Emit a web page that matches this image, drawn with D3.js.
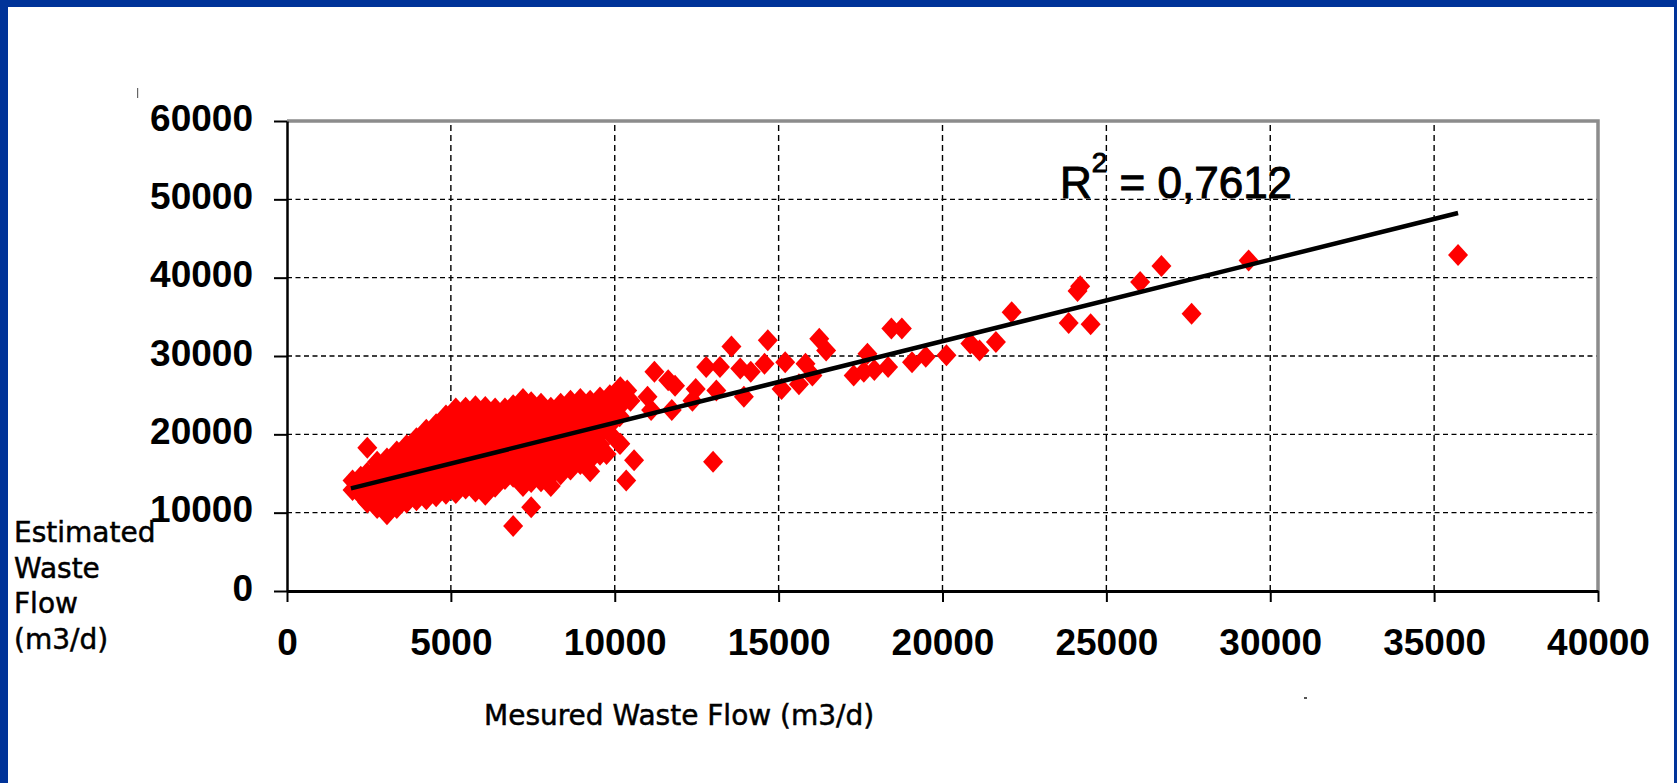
<!DOCTYPE html>
<html>
<head>
<meta charset="utf-8">
<script src="https://cdn.jsdelivr.net/npm/d3@7"></script>
<style>
  body { margin: 0; background: #fff; overflow: hidden; }
</style>
</head>
<body>
<div id="chart"></div>
<script>
// axis ticks
const xTicks = [0, 5000, 10000, 15000, 20000, 25000, 30000, 35000, 40000];
const yTicks = [0, 10000, 20000, 30000, 40000, 50000, 60000];

// dense cloud, read column by column: [measured, [estimated...]]
const denseColumns = [
  [2000, [12900, 14100]],
  [2250, [12300, 13500, 14600]],
  [2450, [11300, 12600, 13900, 15100, 18300]],
  [2750, [10600, 11900, 13200, 14500, 15700, 16500]],
  [3050, [9800, 11100, 12400, 13700, 15000, 16300, 16900]],
  [3350, [10600, 11900, 13200, 14500, 15800, 17100, 17800]],
  [3650, [11300, 12600, 13900, 15200, 16500, 17800, 18600]],
  [3950, [11600, 12900, 14200, 15500, 16800, 18100, 19500]],
  [4250, [11700, 13000, 14300, 15600, 16900, 18200, 19500, 20600]],
  [4550, [12100, 13400, 14700, 16000, 17300, 18600, 19900, 21300]],
  [4850, [12400, 13700, 15000, 16300, 17600, 18900, 20200, 21500, 22400]],
  [5150, [12500, 13800, 15100, 16400, 17700, 19000, 20300, 21600, 22900, 23300]],
  [5450, [13100, 14400, 15700, 17000, 18300, 19600, 20900, 22200, 23400]],
  [5750, [12700, 14000, 15300, 16600, 17900, 19200, 20500, 21800, 23100, 23600]],
  [6050, [12300, 13600, 14900, 16200, 17500, 18800, 20100, 21400, 22700, 23500]],
  [6350, [13300, 14600, 15900, 17200, 18500, 19800, 21100, 22400, 23300]],
  [6650, [14300, 15600, 16900, 18200, 19500, 20800, 22100, 23300]],
  [6900, [8300, 14600, 15900, 17200, 18500, 19800, 21100, 22400, 23700]],
  [7200, [13400, 14700, 16000, 17300, 18600, 19900, 21200, 22500, 23800, 24500]],
  [7450, [10700, 13900, 15200, 16500, 17800, 19100, 20400, 21700, 23000, 24100]],
  [7750, [14000, 15300, 16600, 17900, 19200, 20500, 21800, 23100, 23900]],
  [8050, [13400, 14700, 16000, 17300, 18600, 19900, 21200, 22500, 23400]],
  [8350, [14900, 16200, 17500, 18800, 20100, 21400, 22700, 23900]],
  [8650, [15500, 16800, 18100, 19400, 20700, 22000, 23300, 24300]],
  [8950, [16200, 17500, 18800, 20100, 21400, 22700, 24000, 24500]],
  [9250, [15300, 16800, 18200, 19500, 20800, 22100, 23400, 24300]],
  [9550, [17400, 18700, 20000, 21300, 22600, 23900, 24700]],
  [9850, [20100, 21200, 22500, 23800, 25000]],
  [10150, [18800, 22300, 23600, 24900, 25300]]
];

// scattered points away from the cloud: [measured, estimated]
const sparsePoints = [
  [9750, 17500], [10170, 18800], [10350, 14100], [10590, 16700], [10480, 24300],
  [10380, 25600], [10170, 26000], [11000, 24800], [11110, 23100], [11210, 28000],
  [11630, 26900], [11740, 23100], [11840, 26200], [12370, 24300], [12470, 25800],
  [12790, 28600], [13000, 16500], [13100, 25600], [13210, 28600], [13560, 31200],
  [13830, 28400], [13940, 24800], [14150, 28000], [14570, 29000], [14670, 32000],
  [15090, 25800], [15200, 29200], [15620, 26400], [15820, 29000], [16030, 27500],
  [16240, 32200], [16450, 30700], [17290, 27500], [17600, 28000], [17710, 30300],
  [17920, 28200], [18340, 28600], [18440, 33500], [18760, 33500], [19070, 29200],
  [19490, 29900], [20120, 30100], [20850, 31600], [21130, 30700], [21630, 31800],
  [22110, 35600], [23850, 34200], [24120, 38300], [24200, 38900], [24520, 34050],
  [26030, 39450], [26680, 41500], [27600, 35400], [29340, 42200], [35730, 42900]
];

// linear trend line end points and fit label
const trendLine = [[1950, 13100], [35730, 48260]];
const r2Value = "0,7612";

const xTitle = "Mesured Waste Flow (m3/d)";
const yTitleLines = ["Estimated", "Waste", "Flow", "(m3/d)"];

const points = denseColumns
  .flatMap(([mx, ests]) => ests.map(e => [mx, e]))
  .concat(sparsePoints);

const width = 1677;
const height = 783;

const svg = d3.select("#chart")
  .append("svg")
  .attr("width", width)
  .attr("height", height);

// slide frame
svg.append("rect")
  .attr("width", width).attr("height", height)
  .attr("fill", "#003399");
svg.append("rect")
  .attr("x", 8).attr("y", 7)
  .attr("width", width - 11).attr("height", height - 7)
  .attr("fill", "#ffffff");

// small scan specks seen on the slide
svg.append("rect").attr("x", 137).attr("y", 88).attr("width", 1.2).attr("height", 10).attr("fill", "#666");
svg.append("rect").attr("x", 1304).attr("y", 697).attr("width", 3).attr("height", 2).attr("fill", "#555");

const x = d3.scaleLinear().domain([0, 40000]).range([287, 1598]);
const y = d3.scaleLinear().domain([0, 60000]).range([591, 121]);

// dashed grid
const grid = svg.append("g")
  .attr("stroke", "#000")
  .attr("stroke-width", 1.4);

grid.selectAll("line.h")
  .data(yTicks.slice(1, -1))
  .join("line")
  .attr("class", "h")
  .attr("x1", x(0)).attr("x2", x(40000))
  .attr("y1", d => y(d)).attr("y2", d => y(d))
  .attr("stroke-dasharray", "5,3.5");

grid.selectAll("line.v")
  .data(xTicks.slice(1, -1))
  .join("line")
  .attr("class", "v")
  .attr("y1", y(0)).attr("y2", y(60000))
  .attr("x1", d => x(d)).attr("x2", d => x(d))
  .attr("stroke-dasharray", "6,4");

// plot area border (top and right)
svg.append("path")
  .attr("d", `M${x(0)},${y(60000)}H${x(40000)}V${y(0)}`)
  .attr("fill", "none")
  .attr("stroke", "#8c8c8c")
  .attr("stroke-width", 3.5);

// diamonds
svg.append("g")
  .selectAll("path")
  .data(points)
  .join("path")
  .attr("transform", d => `translate(${x(d[0])},${y(d[1])})`)
  .attr("d", "M0,-11L10,0L0,11L-10,0Z")
  .attr("fill", "#ff0000");

// trend line
svg.append("line")
  .attr("x1", x(trendLine[0][0])).attr("y1", y(trendLine[0][1]))
  .attr("x2", x(trendLine[1][0])).attr("y2", y(trendLine[1][1]))
  .attr("stroke", "#000")
  .attr("stroke-width", 4.5);

// axes
const tickFont = "'Liberation Sans', Arial, sans-serif";

const xAxis = d3.axisBottom(x)
  .tickValues(xTicks)
  .tickSize(11)
  .tickSizeOuter(0)
  .tickPadding(27)
  .tickFormat(d3.format("d"));

const gx = svg.append("g")
  .attr("transform", `translate(0,${y(0)})`)
  .call(xAxis);
gx.select(".domain").attr("stroke-width", 3);
gx.selectAll(".tick line").attr("stroke-width", 2);
gx.selectAll("text")
  .attr("font-family", tickFont)
  .attr("font-weight", "bold")
  .attr("font-size", 37)
  .attr("fill", "#000");

const yAxis = d3.axisLeft(y)
  .tickValues(yTicks)
  .tickSize(13)
  .tickSizeOuter(0)
  .tickPadding(21)
  .tickFormat(d3.format("d"));

const gy = svg.append("g")
  .attr("transform", `translate(${x(0)},0)`)
  .call(yAxis);
gy.select(".domain").attr("stroke-width", 2.5);
gy.selectAll(".tick line").attr("stroke-width", 2);
gy.selectAll("text")
  .attr("dy", "0.25em")
  .attr("font-family", tickFont)
  .attr("font-weight", "bold")
  .attr("font-size", 37)
  .attr("fill", "#000");

// axis titles
svg.append("text")
  .attr("x", 484)
  .attr("y", 725)
  .attr("font-family", "'DejaVu Sans', sans-serif")
  .attr("font-size", 28)
  .attr("fill", "#000")
  .attr("stroke", "#000")
  .attr("stroke-width", 0.5)
  .text(xTitle);

svg.append("text")
  .attr("font-family", "'DejaVu Sans', sans-serif")
  .attr("font-size", 28)
  .attr("fill", "#000")
  .attr("stroke", "#000")
  .attr("stroke-width", 0.5)
  .selectAll("tspan")
  .data(yTitleLines)
  .join("tspan")
  .attr("x", 14)
  .attr("y", (d, i) => 542 + i * 35.5)
  .text(d => d);

// R squared label
const r2 = svg.append("text")
  .attr("x", 1060)
  .attr("y", 198)
  .attr("font-family", tickFont)
  .attr("font-size", 44)
  .attr("fill", "#000")
  .attr("stroke", "#000")
  .attr("stroke-width", 1);
r2.append("tspan").text("R");
r2.append("tspan").attr("font-size", 28).attr("dy", -26).text("2");
r2.append("tspan").attr("dy", 26).text(" = " + r2Value);
</script>
</body>
</html>
